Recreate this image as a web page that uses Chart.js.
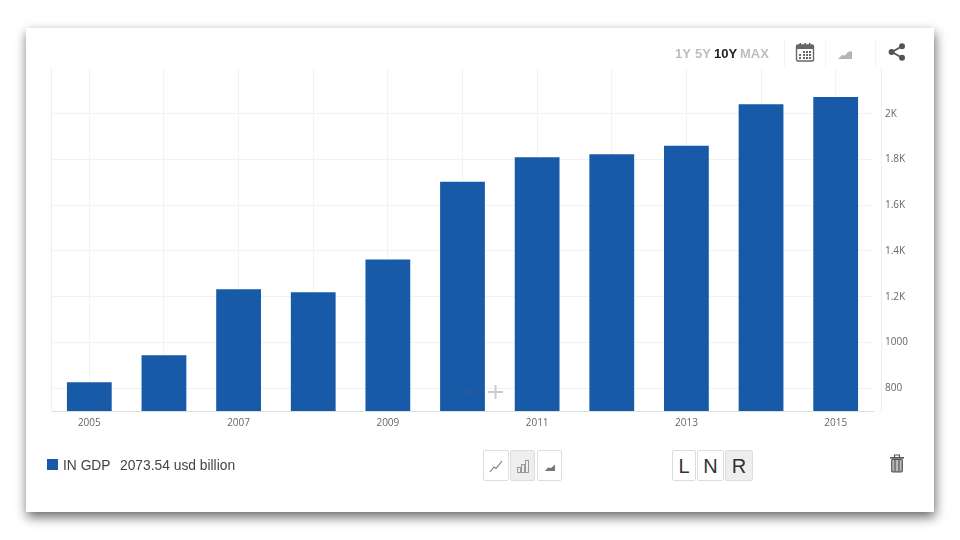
<!doctype html>
<html>
<head>
<title>IN GDP</title>
<script src="https://cdn.jsdelivr.net/npm/chart.js@4"></script>
<style>
	html, body { margin: 0; padding: 0; background: #fff; width: 960px; height: 540px; overflow: hidden; }
	#card { position: absolute; left: 26px; top: 28px; width: 908px; height: 484px; background: #fff; box-shadow: 1px 5px 11px rgba(0,0,0,.6); }
	#canvas { position: absolute; left: 0; top: 0; }
	.abs { position: absolute; font-family: "Liberation Sans", Arial, sans-serif; }
	.range { top: 46px; font-size: 13px; font-weight: bold; color: #bdbdbd; line-height: 16px; }
	.sep { width: 1px; top: 40px; height: 28px; background: #f5f5f5; }
	.btn { top: 450px; height: 31px; box-sizing: border-box; border: 1px solid #ddd; border-radius: 2px; background: #fff; text-align: center; color: #333; font-size: 20px; line-height: 30px; }
	.btn.on { background: #eee; }
	.btn svg { display: block; margin: 8px auto 0; }
	#legendBox { left: 47px; top: 459px; width: 11px; height: 11px; background: #165aa8; }
	.legend { top: 457px; font-size: 13.8px; color: #444; line-height: 17px; white-space: pre; }
</style>
</head>

<body>
	<div id="card"></div>
	<canvas id="canvas" width="960" height="540"></canvas>

	<div class="abs range" style="left:675px">1Y</div>
	<div class="abs range" style="left:695px">5Y</div>
	<div class="abs range" style="left:714px;color:#222">10Y</div>
	<div class="abs range" style="left:740px">MAX</div>
	<div class="abs sep" style="left:784px"></div>
	<div class="abs sep" style="left:825px"></div>
	<div class="abs sep" style="left:875px"></div>

	<svg class="abs" style="left:795px;top:42px" width="20" height="20" viewBox="0 0 20 20">
		<rect x="1.5" y="3" width="17" height="16" rx="1.5" fill="#fff" stroke="#666" stroke-width="1.4"/>
		<rect x="1.5" y="3" width="17" height="4" fill="#666"/>
		<rect x="4.5" y="1" width="1.6" height="4" fill="#666"/><rect x="9.2" y="1" width="1.6" height="4" fill="#666"/><rect x="13.9" y="1" width="1.6" height="4" fill="#666"/>
		<g fill="#666">
			<rect x="8" y="9" width="2" height="2"/><rect x="11" y="9" width="2" height="2"/><rect x="14" y="9" width="2" height="2"/>
			<rect x="4" y="12" width="2" height="2"/><rect x="8" y="12" width="2" height="2"/><rect x="11" y="12" width="2" height="2"/><rect x="14" y="12" width="2" height="2"/>
			<rect x="4" y="15" width="2" height="2"/><rect x="8" y="15" width="2" height="2"/><rect x="11" y="15" width="2" height="2"/><rect x="14" y="15" width="2" height="2"/>
		</g>
	</svg>
	<svg class="abs" style="left:838px;top:50px" width="14" height="10" viewBox="0 0 14 10">
		<path d="M0 9 L4 5 L7 5.5 L10 2 L14 1 L14 9 Z" fill="#b5b5b5"/>
	</svg>
	<svg class="abs" style="left:888px;top:43px" width="18" height="18" viewBox="0 0 18 18">
		<path d="M13.5 3.5 L4 9 L13.5 14.5" fill="none" stroke="#555" stroke-width="1.8"/>
		<circle cx="14" cy="3.3" r="3" fill="#555"/><circle cx="3.6" cy="9" r="3" fill="#555"/><circle cx="14" cy="14.7" r="3" fill="#555"/>
	</svg>

	<div class="abs" id="legendBox"></div>
	<div class="abs legend" id="legendName" style="left:63px"></div>
	<div class="abs legend" id="legendValue" style="left:120px"></div>

	<svg class="abs" style="left:458px;top:384px" width="46" height="16" viewBox="0 0 46 16">
		<rect x="0" y="7" width="16" height="2" fill="#2d5a8f"/>
		<rect x="30" y="7" width="15" height="2" fill="#ccc"/><rect x="36.5" y="1" width="2" height="14" fill="#ccc"/>
	</svg>

	<div class="abs btn" style="left:483px;width:26px">
		<svg width="14" height="14" viewBox="0 0 14 14"><path d="M1 13 L5 8 L7 9.5 L13 2" fill="none" stroke="#777" stroke-width="1.1"/></svg>
	</div>
	<div class="abs btn on" style="left:510px;width:25px">
		<svg width="14" height="14" viewBox="0 0 14 14" fill="none" stroke="#999" stroke-width="1"><rect x="1.5" y="8.5" width="3" height="5"/><rect x="5.5" y="5.5" width="3" height="8"/><rect x="9.5" y="1.5" width="3" height="12"/></svg>
	</div>
	<div class="abs btn" style="left:537px;width:25px">
		<svg width="14" height="14" viewBox="0 0 14 14"><path d="M2 12 L5 8.5 L8 9 L12 5.5 L12 12 Z" fill="#777"/></svg>
	</div>
	<div class="abs btn" style="left:672px;width:24px">L</div>
	<div class="abs btn" style="left:697px;width:27px">N</div>
	<div class="abs btn on" style="left:725px;width:28px">R</div>

	<svg class="abs" style="left:889px;top:454px" width="16" height="19" viewBox="0 0 16 19">
		<rect x="1" y="3" width="14" height="1.6" fill="#555"/>
		<path d="M5.5 3 V1 H10.5 V3" fill="none" stroke="#555" stroke-width="1.2"/>
		<rect x="2.7" y="5.3" width="10.6" height="12.5" rx="1" fill="#bbb" stroke="#555" stroke-width="1.2"/>
		<path d="M6 6 V17 M10 6 V17" stroke="#555" stroke-width="1.2"/>
	</svg>

	<script>
		var seriesName = 'IN GDP';
		var latestLabel = '2073.54 usd billion';
		var years = ['2005', '2006', '2007', '2008', '2009', '2010', '2011', '2012', '2013', '2014', '2015'];
		var gdp = [826, 944, 1232, 1219, 1362, 1703, 1810, 1823, 1860, 2041, 2073.54];
		var yTicks = [800, 1000, 1200, 1400, 1600, 1800, 2000];
		var yTickLabels = ['800', '1000', '1.2K', '1.4K', '1.6K', '1.8K', '2K'];

		document.getElementById('legendName').textContent = seriesName;
		document.getElementById('legendValue').textContent = latestLabel;

		// edge lines of the plot, the right one sits a few px away from the bars
		var axisLine = {
			id: 'axisLine',
			afterDraw: function(chart) {
				var ctx = chart.ctx;
				var area = chart.chartArea;
				ctx.save();
				ctx.strokeStyle = '#eeeeee';
				ctx.beginPath();
				ctx.moveTo(area.right + 8.5, area.top);
				ctx.lineTo(area.right + 8.5, area.bottom + 1);
				ctx.moveTo(area.left - 0.5, area.top);
				ctx.lineTo(area.left - 0.5, area.bottom);
				ctx.stroke();
				ctx.restore();
			}
		};

		var config = {
			type: 'bar',
			data: {
				labels: years,
				datasets: [{
					label: seriesName,
					data: gdp,
					backgroundColor: '#165aa8',
					categoryPercentage: 1,
					barPercentage: 0.6
				}]
			},
			plugins: [axisLine],
			options: {
				responsive: false,
				animation: false,
				layout: { padding: { left: 52, top: 68, right: 0, bottom: 0 } },
				plugins: { legend: { display: false }, tooltip: { enabled: false } },
				scales: {
					x: {
						offset: true,
						afterFit: function(scale) { scale.height = 129; },
						grid: { offset: false, color: '#f2f2f2', drawTicks: false },
						border: { color: '#dddddd' },
						ticks: {
							autoSkip: false,
							maxRotation: 0,
							padding: 6,
							color: '#666',
							font: { family: 'Open Sans', size: 10 },
							callback: function(value, index) {
								return index % 2 === 0 ? years[index] : '';
							}
						}
					},
					y: {
						position: 'right',
						min: 700,
						max: 2200,
						afterFit: function(scale) { scale.width = 87; },
						afterBuildTicks: function(scale) {
							scale.ticks = yTicks.map(function(v) { return { value: v }; });
						},
						grid: { color: '#f2f2f2', drawTicks: false },
						border: { display: false },
						ticks: {
							padding: 12,
							color: '#666',
							font: { family: 'Open Sans', size: 10 },
							callback: function(value) {
								return yTickLabels[yTicks.indexOf(value)];
							}
						}
					}
				}
			}
		};

		window.onload = function() {
			var ctx = document.getElementById('canvas').getContext('2d');
			window.myBar = new Chart(ctx, config);
		};
	</script>
</body>

</html>
